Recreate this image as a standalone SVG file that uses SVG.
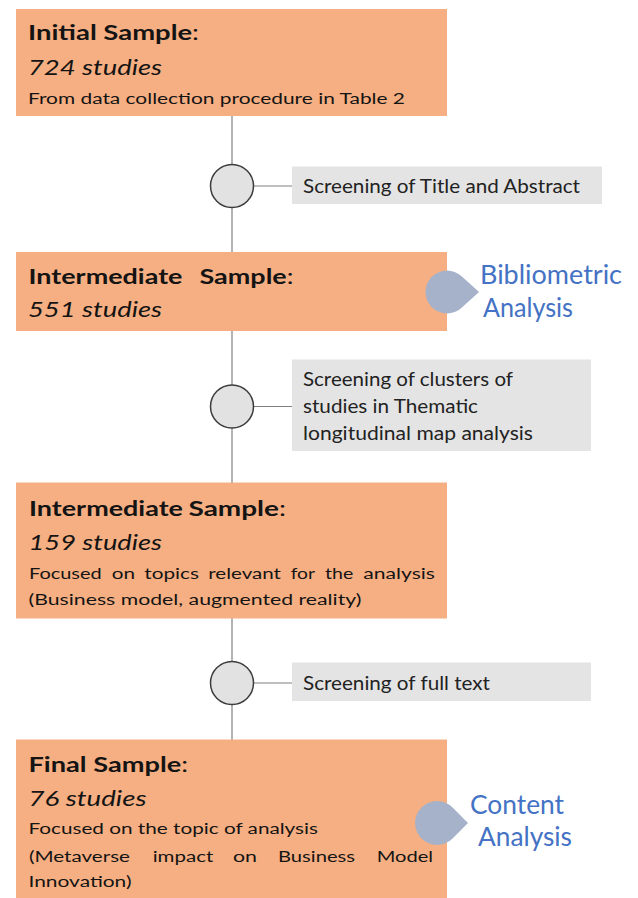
<svg xmlns="http://www.w3.org/2000/svg" width="638" height="898" viewBox="0 0 638 898">
<style>
.box{fill:#F6AF82}
.gbox{fill:#E4E4E4}
.circ{fill:#E2E2E2;stroke:#3C3C3C;stroke-width:1.5}
.ln{stroke:#808080;stroke-width:1.2;fill:none}
.drop{fill:#A6B2CA}
text{font-family:Lato,"Open Sans","Liberation Sans",sans-serif;fill:#141414}
.h{font-size:20.5px;font-weight:bold}
.h .c{font-weight:normal}
.i{font-size:21.5px;font-style:italic}
.b{font-size:15.5px}
.g{font-size:19.5px;fill:#222}
.bl{font-size:26.5px;fill:#4472C4}
</style>
<g id="connectors">
<line class="ln" x1="232" y1="116" x2="232" y2="252"/>
<line class="ln" x1="232" y1="331" x2="232" y2="483"/>
<line class="ln" x1="232" y1="618" x2="232" y2="740"/>
<line class="ln" x1="253" y1="186" x2="292" y2="186"/>
<line class="ln" x1="253" y1="406.5" x2="292" y2="406.5"/>
<line class="ln" x1="253" y1="683" x2="292" y2="683"/>
</g>
<g id="initial">
<rect class="box" x="16" y="9" width="431" height="107"/>
<text class="h" x="28" y="40" textLength="171" lengthAdjust="spacingAndGlyphs">Initial Sample<tspan class="c">:</tspan></text>
<text class="i" x="28" y="75" textLength="134" lengthAdjust="spacingAndGlyphs">724 studies</text>
<text class="b" x="28" y="104" textLength="377" lengthAdjust="spacingAndGlyphs">From data collection procedure in Table 2</text>
</g>
<g id="step1">
<circle class="circ" cx="232" cy="186" r="21.5"/>
<rect class="gbox" x="292" y="166.5" width="310" height="37.5"/>
<text class="g" x="303" y="193" textLength="277" lengthAdjust="spacingAndGlyphs">Screening of Title and Abstract</text>
</g>
<g id="intermediate1">
<rect class="box" x="16" y="252" width="431" height="79"/>
<text class="h" x="28.5" y="283.5" textLength="154" lengthAdjust="spacingAndGlyphs">Intermediate</text>
<text class="h" x="199.5" y="283.5" textLength="94" lengthAdjust="spacingAndGlyphs">Sample<tspan class="c">:</tspan></text>
<text class="i" x="28" y="317" textLength="134" lengthAdjust="spacingAndGlyphs">551 studies</text>
</g>
<g id="bibliometric">
<path class="drop" d="M479,292 L462.2,276.8 A21.5,21.5 0 1 0 462.2,307.2 Z"/>
<text class="bl" x="480" y="283.5" textLength="142" lengthAdjust="spacingAndGlyphs">Bibliometric</text>
<text class="bl" x="483" y="317" textLength="90" lengthAdjust="spacingAndGlyphs">Analysis</text>
</g>
<g id="step2">
<circle class="circ" cx="232" cy="406.5" r="21.5"/>
<rect class="gbox" x="292" y="359.5" width="299" height="91.5"/>
<text class="g" x="303" y="386" textLength="210" lengthAdjust="spacingAndGlyphs">Screening of clusters of</text>
<text class="g" x="303" y="413" textLength="175" lengthAdjust="spacingAndGlyphs">studies in Thematic</text>
<text class="g" x="303" y="440" textLength="230" lengthAdjust="spacingAndGlyphs">longitudinal map analysis</text>
</g>
<g id="intermediate2">
<rect class="box" x="16" y="482.5" width="431" height="136"/>
<text class="h" x="29" y="515.5" textLength="154" lengthAdjust="spacingAndGlyphs">Intermediate</text>
<text class="h" x="188.5" y="515.5" textLength="97.5" lengthAdjust="spacingAndGlyphs">Sample<tspan class="c">:</tspan></text>
<text class="i" x="28.5" y="550" textLength="133.5" lengthAdjust="spacingAndGlyphs">159 studies</text>
<text class="b" x="29" y="579" textLength="72.7" lengthAdjust="spacingAndGlyphs">Focused</text>
<text class="b" x="111.7" y="579" textLength="23.3" lengthAdjust="spacingAndGlyphs">on</text>
<text class="b" x="144.3" y="579" textLength="54.7" lengthAdjust="spacingAndGlyphs">topics</text>
<text class="b" x="208.3" y="579" textLength="72.7" lengthAdjust="spacingAndGlyphs">relevant</text>
<text class="b" x="290.7" y="579" textLength="24.3" lengthAdjust="spacingAndGlyphs">for</text>
<text class="b" x="325" y="579" textLength="28.3" lengthAdjust="spacingAndGlyphs">the</text>
<text class="b" x="363.3" y="579" textLength="71.7" lengthAdjust="spacingAndGlyphs">analysis</text>
<text class="b" x="28.5" y="605" textLength="333" lengthAdjust="spacingAndGlyphs">(Business model, augmented reality)</text>
</g>
<g id="step3">
<circle class="circ" cx="232" cy="683" r="21.5"/>
<rect class="gbox" x="292" y="662.5" width="299" height="38.5"/>
<text class="g" x="303" y="689.5" textLength="187" lengthAdjust="spacingAndGlyphs">Screening of full text</text>
</g>
<g id="final">
<rect class="box" x="16" y="739.5" width="431" height="160"/>
<text class="h" x="28.5" y="771.5" textLength="159.5" lengthAdjust="spacingAndGlyphs">Final Sample<tspan class="c">:</tspan></text>
<text class="i" x="28.5" y="806" textLength="118" lengthAdjust="spacingAndGlyphs">76 studies</text>
<text class="b" x="28.5" y="834" textLength="289.5" lengthAdjust="spacingAndGlyphs">Focused on the topic of analysis</text>
<text class="b" x="29" y="861.5" textLength="101" lengthAdjust="spacingAndGlyphs">(Metaverse</text>
<text class="b" x="152.7" y="861.5" textLength="60.6" lengthAdjust="spacingAndGlyphs">impact</text>
<text class="b" x="233" y="861.5" textLength="24" lengthAdjust="spacingAndGlyphs">on</text>
<text class="b" x="278" y="861.5" textLength="77" lengthAdjust="spacingAndGlyphs">Business</text>
<text class="b" x="376.7" y="861.5" textLength="56.3" lengthAdjust="spacingAndGlyphs">Model</text>
<text class="b" x="28.5" y="886.5" textLength="103" lengthAdjust="spacingAndGlyphs">Innovation)</text>
</g>
<g id="content">
<path class="drop" d="M468,823 L452.6,807.4 A22,22 0 1 0 452.6,838.6 Z"/>
<text class="bl" x="470" y="814" textLength="94" lengthAdjust="spacingAndGlyphs">Content</text>
<text class="bl" x="478" y="846" textLength="94" lengthAdjust="spacingAndGlyphs">Analysis</text>
</g>
</svg>
